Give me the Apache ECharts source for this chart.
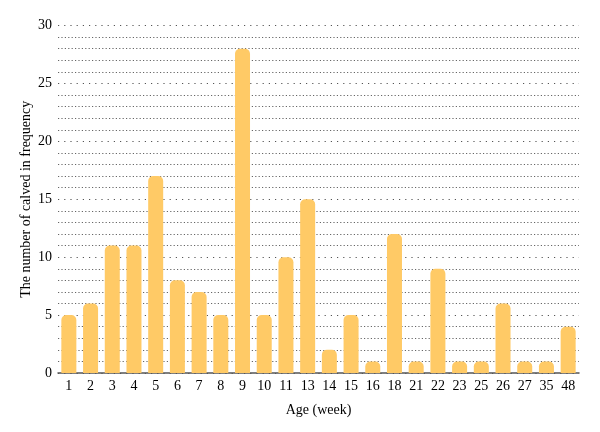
<!DOCTYPE html>
<html><head><meta charset="utf-8">
<script src="https://cdn.jsdelivr.net/npm/echarts@6/dist/echarts.min.js"></script>
<style>html,body{margin:0;padding:0;background:#fff}#c{width:600px;height:432px}</style>
</head><body><div id="c"></div>
<script>
const categories = ['1','2','3','4','5','6','7','8','9','10','11','13','14','15','16','18','21','22','23','25','26','27','35','48'];
const frequency = [5,6,11,11,17,8,7,5,28,5,10,15,2,5,1,12,1,9,1,1,6,1,1,4];
const yTicks = [0,5,10,15,20,25,30];

const font = '"Liberation Serif", "DejaVu Serif", serif';
const chart = echarts.init(document.getElementById('c'), null, {renderer:'canvas'});
chart.setOption({
  animation:false,
  grid:{left:58, right:21, top:25.5, bottom:59},
  xAxis:{
    type:'category', data:categories,
    name:'Age (week)', nameLocation:'middle', nameGap:30,
    nameTextStyle:{fontFamily:font, fontSize:14, color:'#000'},
    axisLine:{lineStyle:{color:'#555', width:1.5}},
    axisTick:{show:false},
    axisLabel:{fontFamily:font, fontSize:14, color:'#000', margin:6, interval:0}
  },
  yAxis:{
    type:'value', min:yTicks[0], max:yTicks[yTicks.length-1], interval:5,
    name:'The number of calved in frequency', nameLocation:'middle', nameGap:25,
    nameMoveOverlap:false,
    nameTextStyle:{fontFamily:font, fontSize:14, color:'#000'},
    axisLine:{show:false}, axisTick:{show:false},
    axisLabel:{fontFamily:font, fontSize:14, color:'#000', margin:6},
    splitLine:{show:true, lineStyle:{color:'#555', width:1, type:[1.2,5]}},
    minorTick:{show:false, splitNumber:5},
    minorSplitLine:{show:true, lineStyle:{color:'#666', width:1, type:[1.2,2.2]}}
  },
  series:[{
    type:'bar', data:frequency, barWidth:15,
    itemStyle:{color:'#FFCA66', borderRadius:[5,5,0,0]},
    z:2
  }]
});
</script></body></html>
